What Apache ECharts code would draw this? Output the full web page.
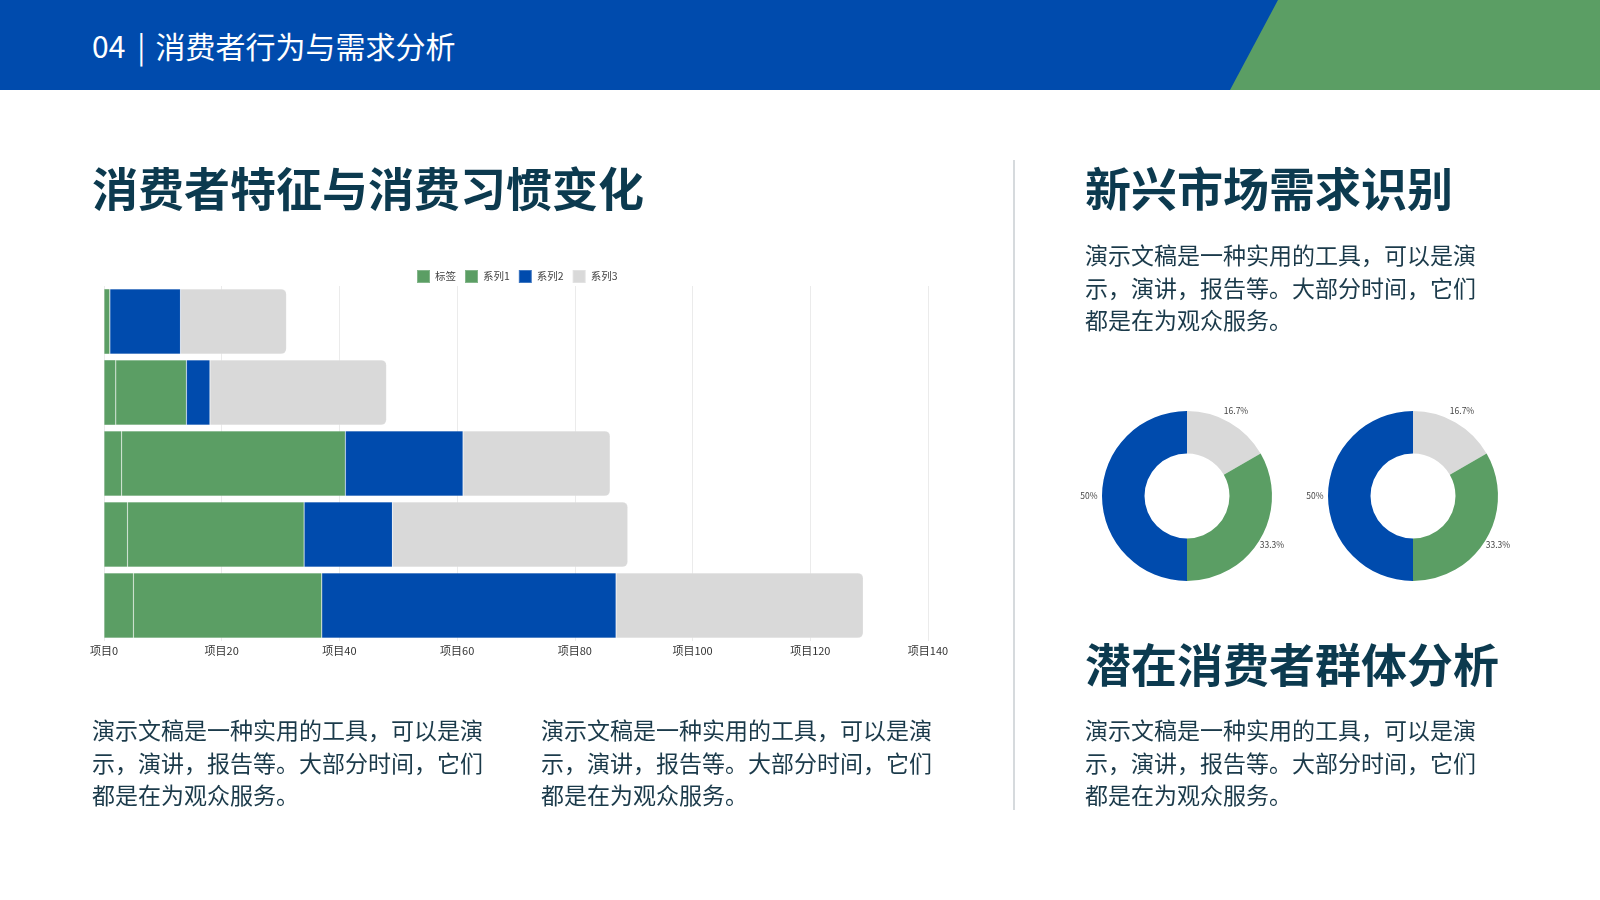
<!DOCTYPE html>
<html>
<head>
<meta charset="utf-8">
<script src="https://cdn.jsdelivr.net/npm/echarts@6/dist/echarts.min.js"></script>
<style>
  html, body { margin: 0; padding: 0; background: #fff; }
  body { width: 1600px; height: 900px; position: relative; overflow: hidden;
         font-family: "Noto Sans CJK SC", "Noto Sans", sans-serif; }
  #header { position: absolute; left: 0; top: 0; width: 1600px; height: 90px; background: #004bad; }
  #header-green { position: absolute; left: 0; top: 0; width: 1600px; height: 90px; background: #5b9e64;
                  clip-path: polygon(1278px 0, 1600px 0, 1600px 90px, 1230px 90px); }
  #header-title { position: absolute; left: 92px; top: 30px; font-size: 30px; line-height: 30px; color: #fff; white-space: nowrap; }
  #header-title .sep { display: inline-block; margin: 0 10px 0 12px; }
  #chart { position: absolute; left: 0; top: 0; width: 1600px; height: 900px; }
  .title { position: absolute; font-size: 46px; line-height: 46px; font-weight: bold; color: #0c3a4f; white-space: nowrap; }
  .para { position: absolute; font-size: 23px; line-height: 32.7px; color: #1b3a4a; white-space: nowrap; }
  #divider { position: absolute; left: 1013px; top: 160px; width: 2px; height: 650px; background: #d6dadd; }
</style>
</head>
<body>
<div id="header"></div>
<div id="header-green"></div>
<div id="header-title">04<span class="sep">|</span>消费者行为与需求分析</div>
<div id="chart"></div>
<div class="title" style="left:92px;top:163px;">消费者特征与消费习惯变化</div>
<div class="title" style="left:1085px;top:163px;">新兴市场需求识别</div>
<div class="title" style="left:1085px;top:639px;">潜在消费者群体分析</div>
<div class="para" style="left:1085px;top:238px;">演示文稿是一种实用的工具，可以是演<br>示，演讲，报告等。大部分时间，它们<br>都是在为观众服务。</div>
<div class="para" style="left:1085px;top:713px;">演示文稿是一种实用的工具，可以是演<br>示，演讲，报告等。大部分时间，它们<br>都是在为观众服务。</div>
<div class="para" style="left:92px;top:713px;">演示文稿是一种实用的工具，可以是演<br>示，演讲，报告等。大部分时间，它们<br>都是在为观众服务。</div>
<div class="para" style="left:541px;top:713px;">演示文稿是一种实用的工具，可以是演<br>示，演讲，报告等。大部分时间，它们<br>都是在为观众服务。</div>
<div id="divider"></div>
<script>
// 条形图数据（自下而上）
const categories = ['类别1', '类别2', '类别3', '类别4', '类别5'];
const seriesNames = ['标签', '系列1', '系列2', '系列3'];
const labelValues = [5, 4, 3, 2, 1];
const series1 = [32, 30, 38, 12, 0];
const series2 = [50, 15, 20, 4, 12];
const series3 = [42, 40, 25, 30, 18];
const xTicks = [0, 20, 40, 60, 80, 100, 120, 140];

// 环形图数据
const pieNames = ['部分A', '部分B', '部分C'];
const pieValues = [1, 2, 3];

const GREEN = '#5b9e64';
const BLUE = '#004bad';
const GRAY = '#d9d9d9';
const FONT = '"Noto Sans CJK SC", "Noto Sans", sans-serif';

const chart = echarts.init(document.getElementById('chart'));

function barSeries(name, data, color, radius) {
    return {
        name: name,
        type: 'bar',
        stack: 'total',
        barCategoryGap: '8%',
        data: data,
        itemStyle: { color: color, borderRadius: radius || 0, borderColor: 'rgba(255,255,255,0.25)', borderWidth: 0.6 }
    };
}

function donut(center) {
    const pieData = pieNames.map((n, i) => ({ name: n, value: pieValues[i] }));
    return [{
        type: 'pie',
        center: center,
        radius: [42.5, 85],
        startAngle: 90,
        silent: true,
        label: { show: false },
        labelLine: { show: false },
        data: pieData,
        color: [GRAY, GREEN, BLUE]
    }, {
        // 透明外环，仅用于放置百分比标签
        type: 'pie',
        center: center,
        radius: [88, 102],
        startAngle: 90,
        silent: true,
        percentPrecision: 1,
        itemStyle: { color: 'transparent' },
        label: { show: true, position: 'inside', formatter: '{d}%', fontSize: 8.5, color: '#444', fontFamily: FONT },
        labelLine: { show: false },
        data: pieData
    }];
}

chart.setOption({
    animation: false,
    textStyle: { fontFamily: FONT },
    legend: {
        data: seriesNames,
        left: 416,
        top: 269,
        padding: 0,
        itemWidth: 13,
        itemHeight: 13,
        itemGap: 8,
        icon: 'rect',
        textStyle: { fontSize: 10.5, color: '#444', fontFamily: FONT }
    },
    grid: { left: 104, right: 672, top: 286, bottom: 259, containLabel: false },
    xAxis: {
        type: 'value',
        min: xTicks[0],
        max: xTicks[xTicks.length - 1],
        interval: 20,
        axisLine: { show: false },
        axisTick: { show: false },
        splitLine: { show: true, lineStyle: { color: '#ebebeb', width: 1 } },
        axisLabel: { formatter: '项目{value}', fontSize: 11, color: '#333', margin: 4 }
    },
    yAxis: {
        type: 'category',
        data: categories,
        axisLine: { show: false },
        axisTick: { show: false },
        axisLabel: { show: false }
    },
    series: [
        barSeries(seriesNames[0], labelValues, GREEN),
        barSeries(seriesNames[1], series1, GREEN),
        barSeries(seriesNames[2], series2, BLUE),
        barSeries(seriesNames[3], series3, GRAY, [0, 5, 5, 0])
    ].concat(donut([1187, 496]), donut([1413, 496]))
});
</script>
</body>
</html>
